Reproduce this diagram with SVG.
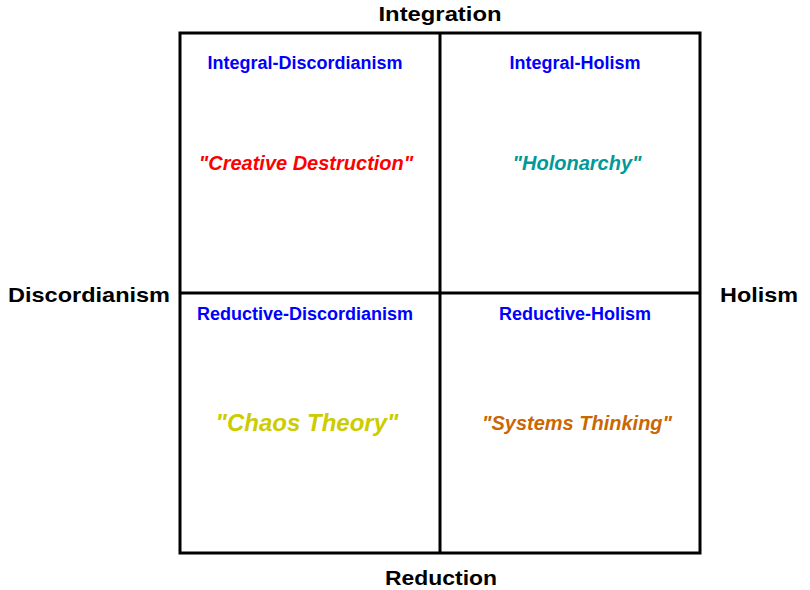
<svg xmlns="http://www.w3.org/2000/svg" width="810" height="590" viewBox="0 0 810 590">
<style>
text{font-family:"Liberation Sans",Arial,sans-serif;font-weight:bold;text-anchor:middle}
.axis{font-size:21px;fill:#000}
.q{font-size:18px;fill:#0000FF}
.c{font-style:italic;font-size:20px}
.ln{stroke:#000;stroke-width:3;fill:none}
</style>
<rect width="810" height="590" fill="#fff"/>
<g id="connectors">
<rect class="ln" x="180" y="33" width="520" height="520"/>
<line class="ln" x1="440" y1="33" x2="440" y2="553"/>
<line class="ln" x1="180" y1="293" x2="700" y2="293"/>
</g>
<g id="axis-top"><text class="axis" x="440" y="21" textLength="123" lengthAdjust="spacingAndGlyphs">Integration</text></g>
<g id="axis-bottom"><text class="axis" x="441" y="585" textLength="112" lengthAdjust="spacingAndGlyphs">Reduction</text></g>
<g id="axis-left"><text class="axis" x="89" y="302" textLength="162" lengthAdjust="spacingAndGlyphs">Discordianism</text></g>
<g id="axis-right"><text class="axis" x="759" y="302" textLength="78" lengthAdjust="spacingAndGlyphs">Holism</text></g>
<g id="q-tl">
<text class="q" x="305" y="69">Integral-Discordianism</text>
<text class="c" x="306" y="170" fill="#FF0000">"Creative Destruction"</text>
</g>
<g id="q-tr">
<text class="q" x="575" y="69">Integral-Holism</text>
<text class="c" x="577" y="170" fill="#009999">"Holonarchy"</text>
</g>
<g id="q-bl">
<text class="q" x="305" y="320">Reductive-Discordianism</text>
<text class="c" x="307" y="431" fill="#CCCC00" style="font-size:24px">"Chaos Theory"</text>
</g>
<g id="q-br">
<text class="q" x="575" y="320">Reductive-Holism</text>
<text class="c" x="577" y="430" fill="#CC6600">"Systems Thinking"</text>
</g>
</svg>
